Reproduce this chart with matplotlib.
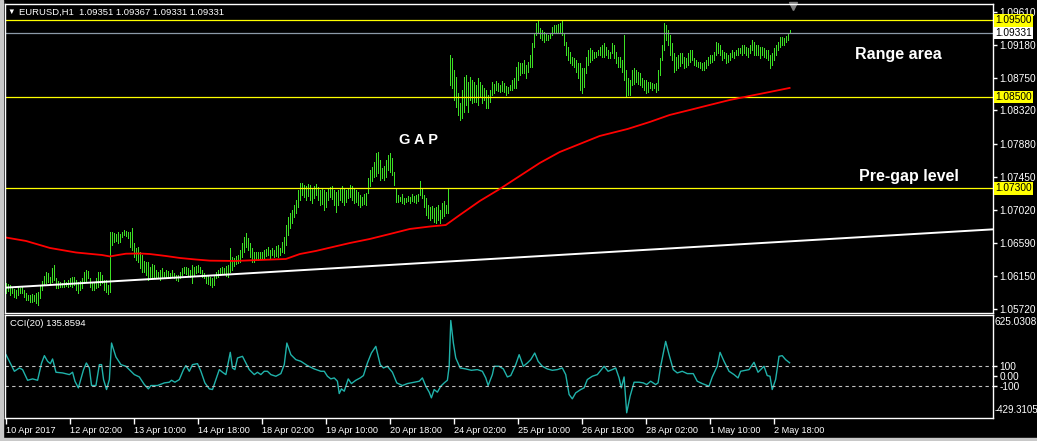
import numpy as np
import matplotlib.pyplot as plt
from matplotlib.patches import Rectangle
from matplotlib.transforms import blended_transform_factory

# EURUSD H1 bars, one per hour, first bar 10 Apr 2017 18:00
highs = [
    1.0606, 1.0605, 1.0603, 1.0599, 1.0598, 1.0597, 1.0601, 1.0599, 1.0601, 1.0597,
    1.0593, 1.0590, 1.0590, 1.0592, 1.0590, 1.0593, 1.0594, 1.0603, 1.0609, 1.0615,
    1.0620,
    1.0619, 1.0614, 1.0626, 1.0630, 1.0612, 1.0609, 1.0607, 1.0606, 1.0610, 1.0607,
    1.0610, 1.0612, 1.0614, 1.0614, 1.0610, 1.0607, 1.0609, 1.0612, 1.0620, 1.0623,
    1.0622, 1.0612, 1.0606, 1.0607, 1.0612, 1.0620, 1.0620, 1.0617, 1.0610, 1.0610,
    1.0603, 1.0673,
    1.0673, 1.0672, 1.0670, 1.0673, 1.0670, 1.0673, 1.0675, 1.0674, 1.0673, 1.0673,
    1.0678, 1.0659, 1.0652, 1.0653, 1.0647, 1.0643, 1.0635, 1.0634,
    1.0634, 1.0627, 1.0631, 1.0630, 1.0623, 1.0620, 1.0623, 1.0626, 1.0620, 1.0623,
    1.0622, 1.0619, 1.0623, 1.0619, 1.0617, 1.0617, 1.0620, 1.0626, 1.0627, 1.0627,
    1.0626, 1.0623, 1.0630, 1.0627, 1.0628, 1.0630, 1.0627, 1.0623, 1.0619, 1.0617,
    1.0615, 1.0614, 1.0613, 1.0617, 1.0620, 1.0623, 1.0626, 1.0627, 1.0626, 1.0628,
    1.0630, 1.0652, 1.0640, 1.0639, 1.0641, 1.0643, 1.0649, 1.0659, 1.0666, 1.0672,
    1.0665, 1.0659, 1.0652, 1.0647, 1.0646, 1.0646, 1.0646, 1.0647, 1.0649, 1.0651,
    1.0653, 1.0649, 1.0652, 1.0649, 1.0655, 1.0656, 1.0652, 1.0660, 1.0666, 1.0682,
    1.0693, 1.0698, 1.0702, 1.0708, 1.0715, 1.0728, 1.0737,
    1.0737, 1.0734, 1.0733, 1.0736, 1.0734, 1.0730, 1.0733, 1.0736, 1.0732, 1.0728,
    1.0730, 1.0728, 1.0725, 1.0729, 1.0732, 1.0733, 1.0728, 1.0725, 1.0728, 1.0730,
    1.0733, 1.0730, 1.0728, 1.0730, 1.0734, 1.0733, 1.0730, 1.0728, 1.0725, 1.0721,
    1.0719,
    1.0722, 1.0724, 1.0744, 1.0754, 1.0758, 1.0765, 1.0776, 1.0778, 1.0767, 1.0757,
    1.0759, 1.0767, 1.0774, 1.0776, 1.0770, 1.0751, 1.0730, 1.0721, 1.0719, 1.0722,
    1.0717, 1.0718, 1.0720, 1.0719, 1.0722, 1.0720, 1.0721, 1.0723, 1.0739, 1.0730,
    1.0721, 1.0717, 1.0708, 1.0706, 1.0707, 1.0704, 1.0706, 1.0708, 1.0702, 1.0711,
    1.0714, 1.0708, 1.0730,
    1.0905, 1.0901, 1.0885, 1.0876, 1.0855, 1.0842, 1.0859, 1.0876, 1.0878, 1.0869,
    1.0876, 1.0872, 1.0869, 1.0865, 1.0874, 1.0869, 1.0865, 1.0861, 1.0859, 1.0852,
    1.0859, 1.0869, 1.0867, 1.0870, 1.0868, 1.0866, 1.0870, 1.0868, 1.0864, 1.0863,
    1.0865, 1.0872, 1.0874, 1.0889, 1.0895, 1.0894, 1.0894, 1.0898, 1.0892, 1.0895,
    1.0905, 1.0920, 1.0933, 1.0947, 1.0950, 1.0940, 1.0937, 1.0935, 1.0933, 1.0931,
    1.0933, 1.0941, 1.0944, 1.0944, 1.0945, 1.0947, 1.0950, 1.0933, 1.0922, 1.0915,
    1.0909, 1.0902, 1.0901, 1.0898, 1.0894, 1.0894, 1.0887, 1.0887, 1.0902, 1.0911,
    1.0914, 1.0911, 1.0909, 1.0909, 1.0911, 1.0915, 1.0918, 1.0920, 1.0915, 1.0911,
    1.0909, 1.0920, 1.0918, 1.0909, 1.0902, 1.0902, 1.0898, 1.0931, 1.0885, 1.0874,
    1.0872, 1.0885, 1.0887, 1.0885, 1.0882, 1.0881, 1.0874, 1.0872, 1.0872, 1.0869,
    1.0869, 1.0868, 1.0867, 1.0868, 1.0885, 1.0901, 1.0918, 1.0947, 1.0944, 1.0937,
    1.0931, 1.0920, 1.0907, 1.0902, 1.0905, 1.0907, 1.0907, 1.0902, 1.0901, 1.0907,
    1.0911, 1.0911, 1.0901, 1.0898, 1.0895, 1.0895, 1.0894, 1.0895, 1.0898, 1.0902,
    1.0905, 1.0905, 1.0909, 1.0922, 1.0920, 1.0918, 1.0911, 1.0909, 1.0907, 1.0905,
    1.0907, 1.0911, 1.0909, 1.0911, 1.0914, 1.0914, 1.0918, 1.0918, 1.0915, 1.0914,
    1.0918, 1.0924, 1.0922, 1.0918, 1.0918, 1.0915, 1.0915, 1.0914, 1.0911, 1.0911,
    1.0905, 1.0907, 1.0914, 1.0918, 1.0922, 1.0928, 1.0928, 1.0927, 1.0929, 1.0933,
    1.0937,
]
lows = [
    1.0593, 1.0596, 1.0590, 1.0593, 1.0588, 1.0586, 1.0590, 1.0593, 1.0593, 1.0588,
    1.0584, 1.0584, 1.0581, 1.0581, 1.0583, 1.0580, 1.0577, 1.0586, 1.0597, 1.0603,
    1.0606,
    1.0607, 1.0605, 1.0607, 1.0610, 1.0599, 1.0599, 1.0601, 1.0601, 1.0601, 1.0602,
    1.0601, 1.0602, 1.0601, 1.0603, 1.0597, 1.0593, 1.0597, 1.0599, 1.0606, 1.0607,
    1.0613, 1.0601, 1.0597, 1.0597, 1.0599, 1.0601, 1.0604, 1.0606, 1.0597, 1.0594,
    1.0592, 1.0594,
    1.0656, 1.0660, 1.0661, 1.0659, 1.0660, 1.0666, 1.0669, 1.0667, 1.0665, 1.0653,
    1.0649, 1.0640, 1.0636, 1.0634, 1.0626, 1.0620, 1.0620, 1.0617,
    1.0610, 1.0614, 1.0614, 1.0613, 1.0613, 1.0613, 1.0610, 1.0614, 1.0613, 1.0614,
    1.0614, 1.0613, 1.0614, 1.0613, 1.0610, 1.0609, 1.0613, 1.0617, 1.0619, 1.0618,
    1.0617, 1.0614, 1.0606, 1.0617, 1.0619, 1.0620, 1.0619, 1.0614, 1.0613, 1.0606,
    1.0605, 1.0603, 1.0601, 1.0603, 1.0613, 1.0614, 1.0617, 1.0619, 1.0619, 1.0615,
    1.0614, 1.0620, 1.0623, 1.0628, 1.0631, 1.0632, 1.0634, 1.0640, 1.0647, 1.0653,
    1.0649, 1.0640, 1.0634, 1.0634, 1.0636, 1.0636, 1.0638, 1.0639, 1.0639, 1.0641,
    1.0643, 1.0639, 1.0643, 1.0640, 1.0641, 1.0640, 1.0643, 1.0647, 1.0645, 1.0656,
    1.0669, 1.0678, 1.0685, 1.0693, 1.0698, 1.0706, 1.0715,
    1.0721, 1.0719, 1.0715, 1.0720, 1.0715, 1.0711, 1.0717, 1.0721, 1.0715, 1.0708,
    1.0710, 1.0702, 1.0706, 1.0715, 1.0719, 1.0716, 1.0708, 1.0699, 1.0708, 1.0715,
    1.0712, 1.0708, 1.0712, 1.0717, 1.0719, 1.0715, 1.0711, 1.0712, 1.0708, 1.0706,
    1.0708,
    1.0709, 1.0708, 1.0724, 1.0733, 1.0739, 1.0745, 1.0746, 1.0750, 1.0741, 1.0744,
    1.0741, 1.0745, 1.0754, 1.0752, 1.0748, 1.0734, 1.0712, 1.0712, 1.0713, 1.0711,
    1.0710, 1.0712, 1.0713, 1.0711, 1.0714, 1.0712, 1.0711, 1.0713, 1.0721, 1.0717,
    1.0706, 1.0695, 1.0691, 1.0689, 1.0691, 1.0686, 1.0685, 1.0689, 1.0685, 1.0691,
    1.0694, 1.0698, 1.0698,
    1.0865, 1.0862, 1.0846, 1.0837, 1.0826, 1.0820, 1.0822, 1.0830, 1.0839, 1.0830,
    1.0846, 1.0842, 1.0843, 1.0843, 1.0839, 1.0850, 1.0842, 1.0846, 1.0835, 1.0835,
    1.0843, 1.0852, 1.0855, 1.0859, 1.0858, 1.0856, 1.0857, 1.0856, 1.0852, 1.0855,
    1.0859, 1.0859, 1.0862, 1.0862, 1.0872, 1.0878, 1.0881, 1.0881, 1.0874, 1.0882,
    1.0889, 1.0889, 1.0915, 1.0931, 1.0935, 1.0927, 1.0924, 1.0922, 1.0924, 1.0924,
    1.0927, 1.0931, 1.0933, 1.0933, 1.0935, 1.0935, 1.0931, 1.0918, 1.0905, 1.0898,
    1.0894, 1.0892, 1.0889, 1.0882, 1.0874, 1.0859, 1.0855, 1.0863, 1.0881, 1.0892,
    1.0896, 1.0898, 1.0901, 1.0902, 1.0905, 1.0905, 1.0902, 1.0902, 1.0905, 1.0901,
    1.0901, 1.0907, 1.0901, 1.0894, 1.0889, 1.0889, 1.0882, 1.0872, 1.0850, 1.0852,
    1.0852, 1.0865, 1.0867, 1.0869, 1.0867, 1.0865, 1.0863, 1.0859, 1.0855, 1.0856,
    1.0861, 1.0859, 1.0861, 1.0856, 1.0859, 1.0878, 1.0898, 1.0911, 1.0924, 1.0918,
    1.0905, 1.0898, 1.0882, 1.0885, 1.0888, 1.0890, 1.0894, 1.0888, 1.0889, 1.0892,
    1.0896, 1.0898, 1.0892, 1.0890, 1.0889, 1.0888, 1.0885, 1.0885, 1.0888, 1.0892,
    1.0894, 1.0896, 1.0898, 1.0905, 1.0907, 1.0905, 1.0898, 1.0901, 1.0894, 1.0896,
    1.0898, 1.0902, 1.0901, 1.0905, 1.0905, 1.0907, 1.0905, 1.0907, 1.0905, 1.0902,
    1.0907, 1.0911, 1.0905, 1.0905, 1.0905, 1.0901, 1.0905, 1.0902, 1.0901, 1.0898,
    1.0888, 1.0892, 1.0898, 1.0905, 1.0911, 1.0915, 1.0918, 1.0918, 1.0922, 1.0924,
    1.0933,
]

# red moving average, read at some bars
ma_bar = [0, 10, 22, 35, 48, 52, 56, 60, 67, 72, 80, 87, 95, 102, 115, 127, 140, 147, 155, 162,
          172, 182, 192, 202, 212, 220, 227, 237, 247, 257, 267, 277, 287, 297, 311, 322, 332,
          342, 352, 362, 372, 382, 392]
ma_val = [1.06656, 1.06611, 1.06519, 1.06460, 1.06427, 1.06408, 1.06427, 1.06444, 1.06447,
          1.06440, 1.06414, 1.06388, 1.06368, 1.06353, 1.06349, 1.06362, 1.06375, 1.06440,
          1.06480, 1.06523, 1.06584, 1.06637, 1.06702, 1.06768, 1.06800, 1.06820, 1.06951,
          1.07134, 1.07292, 1.07462, 1.07632, 1.07776, 1.07881, 1.07986, 1.08078, 1.08169,
          1.08261, 1.08326, 1.08392, 1.08457, 1.08510, 1.08562, 1.08615]

# white trend line anchors
trend_bar = [0, 220]
trend_val = [1.0600, 1.0634]

levels = [1.0950, 1.0850, 1.0730]
bid = 1.09331

price_ticks = [1.09610, 1.09180, 1.08750, 1.08320, 1.07880, 1.07450, 1.07020, 1.06590, 1.06150, 1.05720]

# CCI(20) line vertices
cci_bar = [0, 1.7, 4.2, 6.7, 8.3, 10.8, 13.3, 15.8, 17.8, 19.2,
           20.8, 22.2, 23.3, 25.0, 28.3, 31.7, 33.3, 34.5, 36.2, 38.8,
           40.2, 41.7, 42.8, 45.0, 46.7, 47.8, 48.8, 50.3, 51.7, 52.8,
           55.0, 57.5, 60.0, 61.7, 64.2, 66.7, 69.2, 71.2, 72.5, 75.8,
           79.2, 81.7, 82.8, 84.5, 86.7, 88.8, 90.0, 91.7, 93.3, 95.8,
           97.5, 99.5, 101.7, 103.3, 105.0, 106.7, 108.3, 110.0, 112.2, 113.3,
           114.5, 115.8, 118.3, 121.7, 124.2, 125.8, 127.5, 129.2, 130.8, 132.5,
           135.0, 137.5, 139.2, 140.5, 142.5, 145.0, 147.5, 150.8, 154.2, 157.5,
           159.2, 160.8, 162.5, 164.2, 165.8, 166.7, 167.8, 169.2, 171.2, 172.8,
           175.0, 177.2, 178.8, 180.8, 182.8, 185.0, 187.2, 188.8, 190.8, 193.3,
           195.5, 198.3, 200.8, 204.2, 206.7, 208.3, 210.0, 211.7, 212.8, 214.2,
           215.8, 217.5, 219.2, 220.8, 221.7, 222.5, 223.8, 225.0, 227.2, 230.0,
           232.8, 235.8, 238.3, 240.0, 241.2, 243.3, 244.2, 246.7, 248.8, 250.8,
           252.5, 255.0, 256.7, 258.8, 260.8, 262.5, 264.5, 266.2, 268.3, 270.8,
           273.3, 275.8, 278.3, 280.0, 281.7, 283.3, 285.0, 287.5, 289.2, 290.8,
           293.3, 295.8, 299.2, 301.2, 303.3, 305.0, 306.7, 307.8, 309.2, 310.5,
           312.2, 314.2, 316.7, 318.8, 320.5, 322.5, 325.0, 326.2, 327.5, 330.0,
           331.7, 333.8, 335.8, 338.3, 340.8, 343.8, 345.8, 348.3, 351.7, 353.3,
           355.8, 357.2, 359.2, 361.7, 364.2, 366.2, 367.5, 370.0, 371.7, 374.2,
           376.2, 377.5, 379.2, 380.8, 382.2, 383.3, 385.0, 386.7, 388.3, 390.0,
           392.0]
cci_val = [219, 151, 49, 83, 66, -43, -29, -43, 134, 209,
           151, 127, 175, 39, 32, 15, 39, -53, -121, 66,
           134, 83, -97, -97, 117, 117, -36, -138, -36, 338,
           195, 117, 100, 66, 15, -9, -87, -131, -97, -97,
           -70, -63, -43, -63, -36, 66, 107, 49, 117, 127,
           49, -70, -131, -138, -36, 66, 39, 15, 243, 83,
           66, 185, 202, 66, 15, 39, 15, 49, 49, 15,
           -2, 25, 117, 338, 219, 168, 151, 107, 73, 49,
           49, -2, -29, -19, -53, -179, -131, -155, -29, -77,
           -43, -19, 5, 134, 236, 304, 117, 83, 100, 39,
           -70, -97, -77, -63, -53, -19, -104, -165, -223, -138,
           -165, -104, -70, -43, 100, 569, 338, 185, 83, 73,
           59, 66, 49, -19, -97, 15, 100, 100, 73, -9,
           5, 117, 219, 100, 134, 168, 236, 151, 100, 73,
           59, 66, 83, 15, -189, -233, -172, -138, -121, -36,
           -2, 15, 100, 49, 66, 83, -19, -121, -9, -376,
           -206, -63, -63, -70, -87, -53, -87, -70, 100, 355,
           219, 66, 32, 49, 25, 25, -53, -77, -104, -9,
           100, 243, 151, 49, 15, -19, 49, 59, 66, 141,
           39, 66, 100, 5, -2, -138, -36, 202, 209, 168,
           136]
cci_max = 625.0308
cci_min = -429.3105

time_ticks = [0, 32, 64, 96, 128, 160, 192, 224, 256, 288, 320, 352, 384]
time_labels = ["10 Apr 2017", "12 Apr 02:00", "13 Apr 10:00", "14 Apr 18:00", "18 Apr 02:00",
               "19 Apr 10:00", "20 Apr 18:00", "24 Apr 02:00", "25 Apr 10:00", "26 Apr 18:00",
               "28 Apr 02:00", "1 May 10:00", "2 May 18:00"]

FONT = ["Liberation Sans", "DejaVu Sans"]
BAR = "#3ce024"

W, H = 1037, 441
fig = plt.figure(figsize=(W / 100, H / 100), dpi=100, facecolor="black")


def box(l, t, r, b):
    return [l / W, 1 - b / H, (r - l) / W, (b - t) / H]


ax = fig.add_axes(box(4.5, 3.5, 992.5, 312.5))
ax2 = fig.add_axes(box(4.5, 315, 992.5, 418))

xmax = 493.5
for a in (ax, ax2):
    a.set_facecolor("black")
    a.set_xlim(-0.75, xmax)
    for s in a.spines.values():
        s.set_color("white")
        s.set_linewidth(1)
    a.yaxis.tick_right()
    a.tick_params(colors="white", length=3, width=1, pad=2)

# price panel
x = np.arange(len(highs))
ax.vlines(x, lows, highs, colors=BAR, linewidth=0.72, antialiased=False)
ax.set_ylim(1.05674, 1.09721)

for lv in levels:
    ax.axhline(lv, color="#ffff00", lw=0.9)
ax.axhline(bid, color="#8c9aa8", lw=0.9)

ax.plot(ma_bar, ma_val, color="#ff0000", lw=1.3)

slope = (trend_val[1] - trend_val[0]) / (trend_bar[1] - trend_bar[0])
ax.plot([trend_bar[0], xmax], [trend_val[0], trend_val[0] + slope * (xmax - trend_bar[0])],
        color="white", lw=1.4)

ax.set_xticks([])
ax.set_yticks(price_ticks)
ax.set_yticklabels([f"{v:.5f}" for v in price_ticks], fontsize=7.3, family=FONT)

tr = blended_transform_factory(ax.transAxes, ax.transData)
for lv in levels:
    ax.text(1.0025, lv, f"{lv:.5f}", transform=tr, fontsize=7.3, family=FONT, color="black",
            va="center", ha="left",
            bbox=dict(boxstyle="square,pad=0.12", fc="#ffff00", ec="none"))
ax.text(1.0025, bid, f"{bid:.5f}", transform=tr, fontsize=7.3, family=FONT, color="black",
        va="center", ha="left", bbox=dict(boxstyle="square,pad=0.12", fc="white", ec="none"))

ax.text(206.5, 1.0793, "G A P", color="white", fontsize=10.5, fontweight="bold",
        family=FONT, ha="center", va="center")
ax.text(446.5, 1.0905, "Range area", color="white", fontsize=11.5, fontweight="bold",
        family=FONT, ha="center", va="center")
ax.text(451.5, 1.0745, "Pre-gap level", color="white", fontsize=11.5, fontweight="bold",
        family=FONT, ha="center", va="center")

ax.plot([393.5], [1.0969], marker="v", color="#808080", ms=6, clip_on=False)

fig.text(7 / W, 1 - 12 / H, "\u25bc", color="white", fontsize=5.5, family=FONT, va="center")
fig.text(19 / W, 1 - 12 / H, "EURUSD,H1  1.09351 1.09367 1.09331 1.09331", color="white",
         fontsize=6.8, family=FONT, va="center")

# CCI panel
ax2.plot(cci_bar, cci_val, color="#20b2aa", lw=1)
ax2.set_ylim(cci_min, cci_max)
for lv in (100, -100):
    ax2.axhline(lv, color="#c0c0c0", lw=0.8, dashes=(3, 3))
ax2.set_yticks([100, 0, -100])
ax2.set_yticklabels(["100", "0.00", "-100"], fontsize=7.3, family=FONT)
ax2.text(1.0025, 0.93, f"{cci_max:.4f}", transform=ax2.transAxes, color="white",
         fontsize=7.3, family=FONT, va="center", ha="left")
ax2.text(1.0025, 0.08, f"{cci_min:.4f}", transform=ax2.transAxes, color="white",
         fontsize=7.0, family=FONT, va="center", ha="left")
ax2.text(0.006, 0.92, "CCI(20) 135.8594", transform=ax2.transAxes, color="white",
         fontsize=6.8, family=FONT, va="center", ha="left")

ax2.set_xticks(time_ticks)
ax2.set_xticklabels(time_labels, fontsize=6.6, family=FONT, ha="left")
ax2.tick_params(axis="x", length=4, pad=2)

# window edges
fig.add_artist(Rectangle((0, 0), 2.5 / W, 1, transform=fig.transFigure, color="#c8c8c8"))
fig.add_artist(Rectangle((0, 0), 1, 3 / H, transform=fig.transFigure, color="#c8c8c8"))

fig.savefig("out.png", dpi=100, facecolor="black")
